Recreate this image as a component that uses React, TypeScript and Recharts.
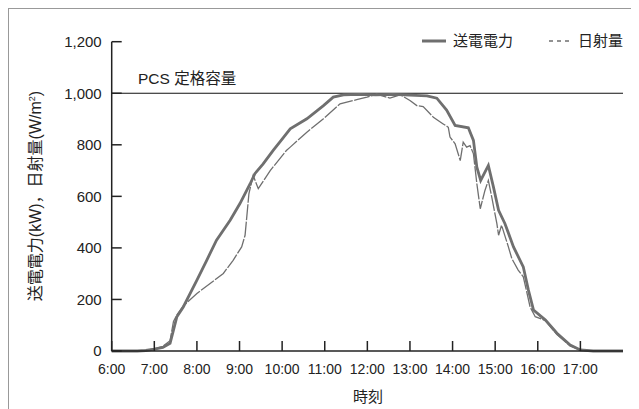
import { LineChart, Line, XAxis, YAxis, ReferenceLine } from "recharts";

const FONT = "'Liberation Sans', Arial, 'Noto Sans CJK JP', sans-serif";
const GRAY = "#6f6f6f";

// 送電電力 (kW)
const powerTimes = [
  6.0, 6.6, 6.8, 7.0, 7.2, 7.37, 7.45, 7.53, 7.68, 8.0, 8.23, 8.46, 8.78, 9.01, 9.25, 9.36, 9.55, 9.79, 10.0,
  10.19, 10.58, 10.97, 11.2, 11.44, 11.8, 12.2, 12.6, 13.0, 13.4, 13.63, 13.86, 14.06, 14.37, 14.49, 14.57,
  14.66, 14.84, 14.96, 15.08, 15.23, 15.43, 15.66, 15.78, 15.9, 16.18, 16.45, 16.76, 17.0, 17.3, 18.0,
];
const powerKw = [
  0, 0, 2, 7, 14, 30, 81, 133, 171, 275, 352, 430, 507, 572, 649, 688, 725, 778, 822,
  862, 901, 952, 985, 994, 996, 994, 996, 993, 990, 981, 935, 875, 866, 817, 713,
  662, 720, 636, 546, 494, 404, 326, 236, 159, 120, 69, 23, 4, 0, 0,
];

// 日射量 (W/m2)
const irrTimes = [
  6.0, 6.7, 7.0, 7.2, 7.37, 7.45, 7.53, 7.68, 8.0, 8.31, 8.62, 8.85, 9.05, 9.13, 9.17, 9.22, 9.32, 9.44, 9.72,
  10.1, 10.19, 10.58, 10.97, 11.36, 11.75, 11.99, 12.22, 12.53, 12.77, 13.0, 13.16, 13.31, 13.55, 13.78, 13.9,
  13.94, 14.06, 14.18, 14.25, 14.33, 14.41, 14.49, 14.57, 14.65, 14.76, 14.84, 14.92, 15.04, 15.08, 15.15,
  15.31, 15.39, 15.54, 15.66, 15.82, 15.94, 16.18, 16.45, 16.76, 17.0, 17.3, 18.0,
];
const irrWm2 = [
  0, 0, 8, 18, 40, 115, 140, 175, 223, 262, 301, 352, 404, 449, 520, 610, 681, 630, 700,
  778, 791, 849, 901, 959, 975, 985, 997, 981, 994, 972, 952, 948, 907, 881, 868,
  830, 804, 739, 810, 791, 797, 765, 649, 552, 623, 662, 597, 494, 449, 488,
  404, 359, 314, 288, 171, 133, 118, 64, 20, 3, 0, 0,
];

const xTicks = [6, 7, 8, 9, 10, 11, 12, 13, 14, 15, 16, 17];
const yTicks = [0, 200, 400, 600, 800, 1000, 1200];
const PCS_CAPACITY = 1000;

const powerData = powerTimes.map((t, i) => ({ t, v: powerKw[i] }));
const irrData = irrTimes.map((t, i) => ({ t, v: irrWm2[i] }));

export default function App() {
  return (
    <div
      style={{
        position: "relative",
        width: 622,
        height: 401,
        borderTop: "1px solid #999",
        borderLeft: "1px solid #999",
        borderRight: "1px solid #999",
        fontFamily: FONT,
        color: "#222",
      }}
    >
      <LineChart width={622} height={400} margin={{ top: 32.7, right: 8, bottom: 28, left: 42.7 }}>
        <XAxis
          dataKey="t"
          type="number"
          domain={[6, 18]}
          ticks={xTicks}
          tickFormatter={(h) => `${h}:00`}
          allowDuplicatedCategory={false}
          height={30}
          stroke="#222"
          strokeWidth={1.5}
          tickSize={-10}
          tickMargin={23}
          tick={{ fontSize: 14, fill: "#222", fontFamily: FONT }}
          interval={0}
        />
        <YAxis
          type="number"
          domain={[0, 1200]}
          ticks={yTicks}
          tickFormatter={(v) => v.toLocaleString("en-US")}
          width={60}
          stroke="#222"
          strokeWidth={1.5}
          tickSize={-10}
          tickMargin={20}
          tick={{ fontSize: 15, fill: "#222", fontFamily: FONT }}
          interval={0}
        />
        <ReferenceLine y={PCS_CAPACITY} stroke="#111" strokeWidth={1.2} />
        <Line
          data={irrData}
          dataKey="v"
          type="linear"
          stroke={GRAY}
          strokeWidth={1.3}
          strokeDasharray="16 1.5"
          dot={false}
          isAnimationActive={false}
        />
        <Line
          data={powerData}
          dataKey="v"
          type="linear"
          stroke={GRAY}
          strokeWidth={2.8}
          dot={false}
          isAnimationActive={false}
        />
      </LineChart>

      {/* PCS label */}
      <div style={{ position: "absolute", left: 129, top: 60, fontSize: 15.5, lineHeight: "20px", whiteSpace: "nowrap" }}>
        PCS 定格容量
      </div>

      {/* legend */}
      <svg style={{ position: "absolute", left: 0, top: 0 }} width={622} height={60}>
        <line x1={413} x2={437} y1={32} y2={32} stroke={GRAY} strokeWidth={3} />
        <line x1={540} x2={562} y1={32} y2={32} stroke={GRAY} strokeWidth={1.3} strokeDasharray="4 4" />
      </svg>
      <div style={{ position: "absolute", left: 444, top: 22, fontSize: 15, lineHeight: "20px", whiteSpace: "nowrap" }}>
        送電電力
      </div>
      <div style={{ position: "absolute", left: 569, top: 22, fontSize: 15, lineHeight: "20px", whiteSpace: "nowrap" }}>
        日射量
      </div>

      {/* y label */}
      <div
        style={{
          position: "absolute",
          left: 25,
          top: 187,
          fontSize: 16,
          lineHeight: "20px",
          whiteSpace: "nowrap",
          transform: "translate(-50%, -50%) rotate(-90deg)",
        }}
      >
        送電電力(kW)，日射量(W/m<sup style={{ fontSize: 9 }}>2</sup>)
      </div>

      {/* x label */}
      <div style={{ position: "absolute", left: 344, top: 378, fontSize: 15, lineHeight: "20px", whiteSpace: "nowrap" }}>
        時刻
      </div>
    </div>
  );
}
